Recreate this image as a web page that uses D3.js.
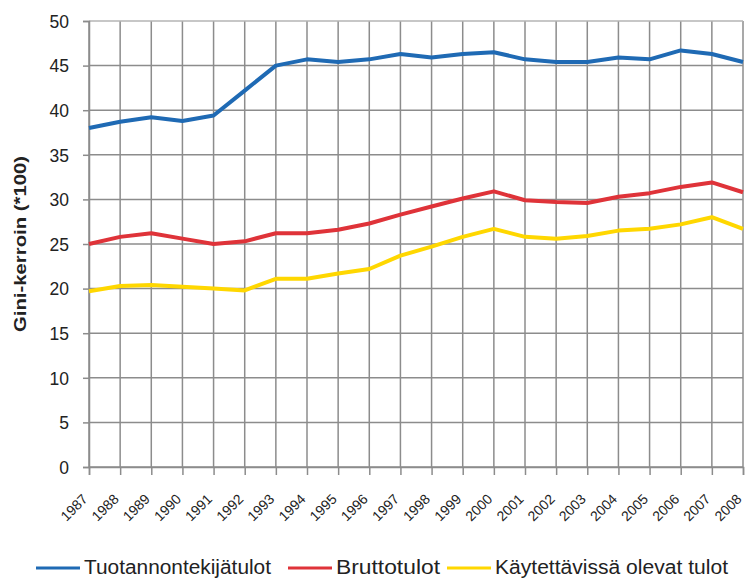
<!DOCTYPE html>
<html>
<head>
<meta charset="utf-8">
<script src="https://cdn.jsdelivr.net/npm/d3@7"></script>
<style>
  body { margin: 0; background: #fff; }
  svg { display: block; font-family: "Liberation Sans", Arial, sans-serif; }
</style>
</head>
<body>
<div id="chart"></div>
<script>
// data
var years = ["1987", "1988", "1989", "1990", "1991", "1992", "1993", "1994", "1995", "1996", "1997",
             "1998", "1999", "2000", "2001", "2002", "2003", "2004", "2005", "2006", "2007", "2008"];
var tuotannontekijatulot = [38.0, 38.7, 39.2, 38.8, 39.4, 42.2, 45.0, 45.7, 45.4, 45.7, 46.3,
                            45.9, 46.3, 46.5, 45.7, 45.4, 45.4, 45.9, 45.7, 46.7, 46.3, 45.4];
var bruttotulot = [25.0, 25.8, 26.2, 25.6, 25.0, 25.3, 26.2, 26.2, 26.6, 27.3, 28.3,
                   29.2, 30.1, 30.9, 29.9, 29.7, 29.6, 30.3, 30.7, 31.4, 31.9, 30.8];
var kaytettavissa = [19.7, 20.3, 20.4, 20.2, 20.0, 19.8, 21.1, 21.1, 21.7, 22.2, 23.7,
                     24.7, 25.8, 26.7, 25.8, 25.6, 25.9, 26.5, 26.7, 27.2, 28.0, 26.7];
var seriesNames = ["Tuotannontekijätulot", "Bruttotulot", "Käytettävissä olevat tulot"];
var yTicks = [0, 5, 10, 15, 20, 25, 30, 35, 40, 45, 50];

var colors = ["#1f6ab4", "#df3339", "#ffd700"];
var allSeries = [tuotannontekijatulot, bruttotulot, kaytettavissa];

// set the dimensions and margins of the graph
var width = 745, height = 579;
var margin = { top: 21, right: 2, bottom: 112, left: 89 };

var svg = d3.select("#chart")
    .append("svg")
    .attr("width", width)
    .attr("height", height);

var x = d3.scalePoint()
    .domain(years)
    .range([margin.left, width - margin.right]);

var y = d3.scaleLinear()
    .domain([0, 50])
    .range([height - margin.bottom, margin.top]);

var gridColor = "#8c8c8c";

// vertical grid lines
svg.append("g")
    .selectAll("line")
    .data(years)
    .enter()
    .append("line")
    .attr("x1", function(d) { return x(d); })
    .attr("x2", function(d) { return x(d); })
    .attr("y1", y(0))
    .attr("y2", y(50))
    .attr("stroke", gridColor)
    .attr("stroke-width", 1.5);

// horizontal grid lines
svg.append("g")
    .selectAll("line")
    .data(yTicks)
    .enter()
    .append("line")
    .attr("x1", x(years[0]))
    .attr("x2", x(years[years.length - 1]))
    .attr("y1", function(d) { return y(d); })
    .attr("y2", function(d) { return y(d); })
    .attr("stroke", function(d) { return d === 50 ? "#b4b4b4" : gridColor; })
    .attr("stroke-width", 1.5);

// Y axis
var yAxis = svg.append("g")
    .attr("transform", "translate(" + margin.left + ",0)")
    .call(d3.axisLeft(y).tickValues(yTicks).tickSize(6).tickPadding(14));
yAxis.select(".domain").attr("stroke", gridColor).attr("stroke-width", 1.5);
yAxis.selectAll(".tick line").attr("stroke", gridColor).attr("stroke-width", 1.5);
yAxis.selectAll("text")
    .attr("font-size", "17.5px")
    .attr("fill", "#222")
    .attr("dy", "0.36em");

// X axis
var xAxis = svg.append("g")
    .attr("transform", "translate(0," + y(0) + ")")
    .call(d3.axisBottom(x).tickSize(8));
xAxis.select(".domain").attr("stroke", gridColor).attr("stroke-width", 1.5);
xAxis.selectAll(".tick line").attr("stroke", gridColor).attr("stroke-width", 1.5);
xAxis.selectAll("text")
    .attr("font-size", "14px")
    .attr("fill", "#222")
    .attr("text-anchor", "end")
    .attr("y", 0)
    .attr("dy", 0)
    .attr("transform", "translate(-1,33) rotate(-45)");

// Y axis title
svg.append("text")
    .attr("transform", "translate(26," + ((y(0) + y(50)) / 2) + ") rotate(-90)")
    .attr("text-anchor", "middle")
    .attr("font-size", "17px")
    .attr("font-weight", "bold")
    .attr("fill", "#222")
    .attr("textLength", 176)
    .attr("lengthAdjust", "spacingAndGlyphs")
    .text("Gini-kerroin (*100)");

// lines
var line = d3.line()
    .x(function(d, i) { return x(years[i]); })
    .y(function(d) { return y(d); });

svg.append("g")
    .selectAll("path")
    .data(allSeries)
    .enter()
    .append("path")
    .attr("d", line)
    .attr("fill", "none")
    .attr("stroke", function(d, i) { return colors[i]; })
    .attr("stroke-width", 4)
    .attr("stroke-linejoin", "round");

// legend
var legendPos = [36, 288, 447];
var legendTextLen = [187, 104, 233];
var legendY = 568;
var legend = svg.append("g")
    .selectAll("g")
    .data(seriesNames)
    .enter()
    .append("g")
    .attr("transform", function(d, i) { return "translate(" + legendPos[i] + "," + legendY + ")"; });

legend.append("line")
    .attr("x1", 0)
    .attr("x2", 44)
    .attr("stroke", function(d, i) { return colors[i]; })
    .attr("stroke-width", 3);

legend.append("text")
    .attr("x", 48)
    .attr("y", 6)
    .attr("font-size", "20px")
    .attr("fill", "#222")
    .attr("textLength", function(d, i) { return legendTextLen[i]; })
    .attr("lengthAdjust", "spacingAndGlyphs")
    .text(function(d) { return d; });
</script>
</body>
</html>
